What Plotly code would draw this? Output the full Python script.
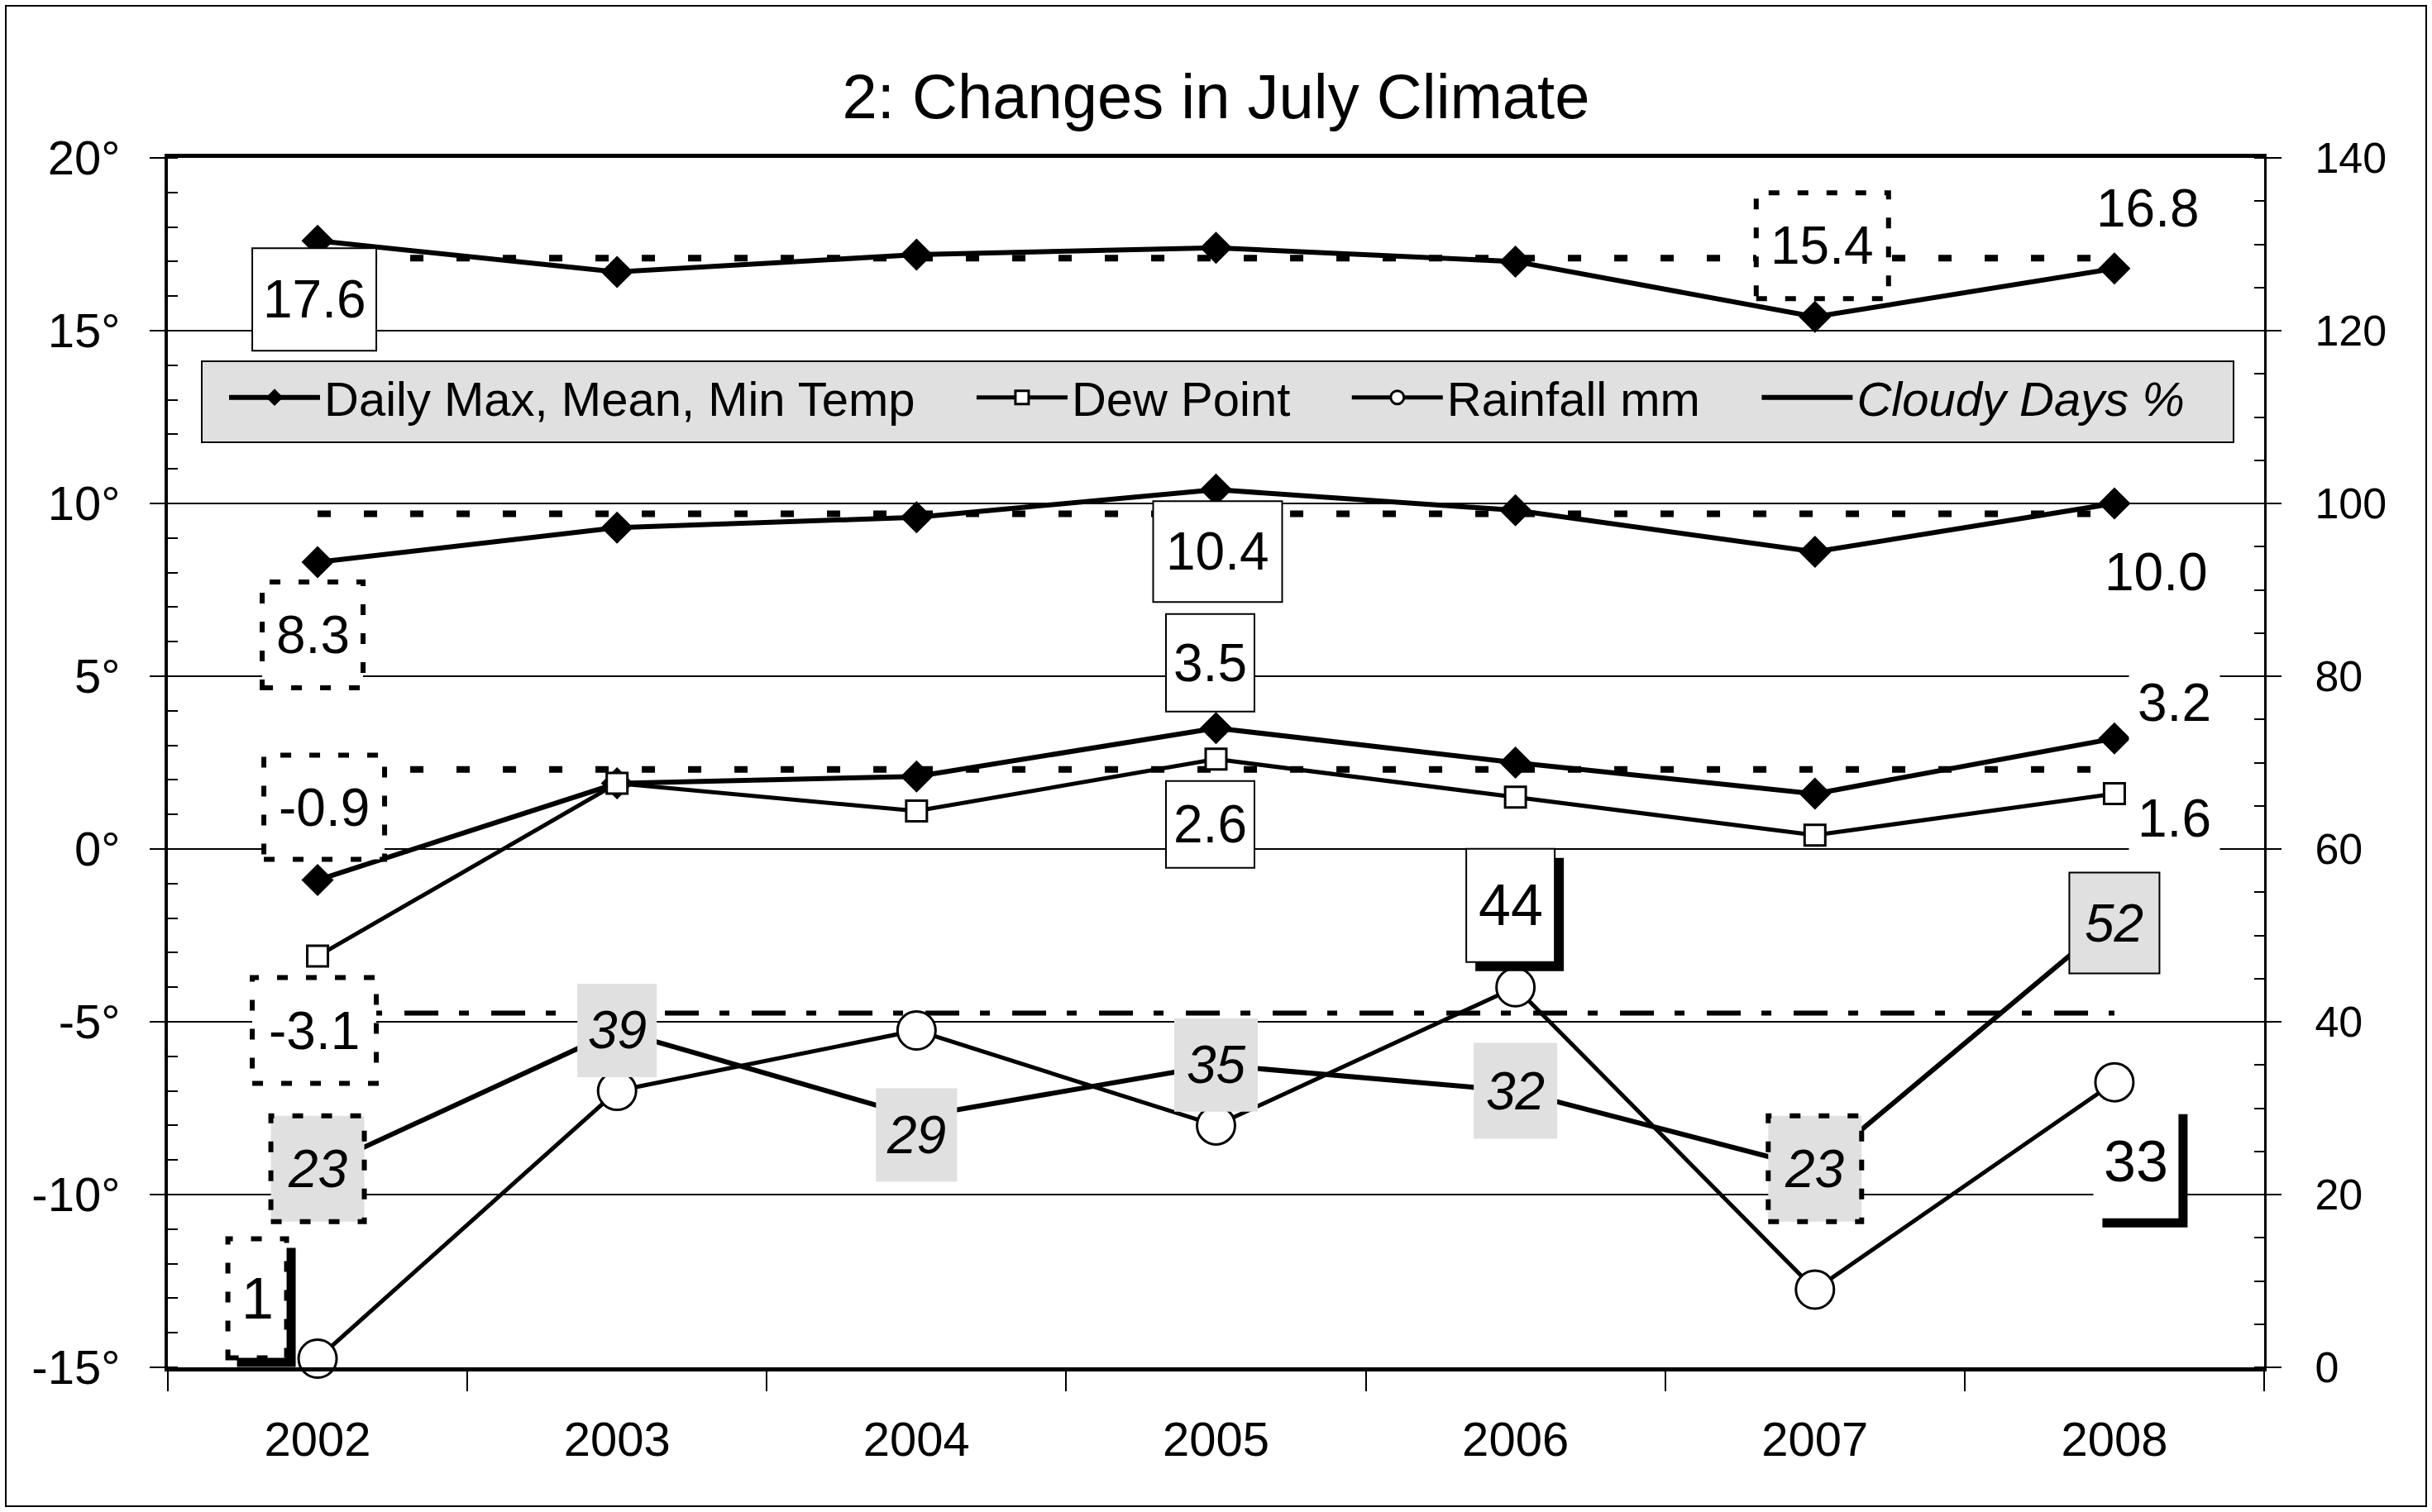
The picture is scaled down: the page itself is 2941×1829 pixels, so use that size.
import plotly.graph_objects as go

# ---------------- data ----------------
years = [2002, 2003, 2004, 2005, 2006, 2007, 2008]
year_labels = ["2002", "2003", "2004", "2005", "2006", "2007", "2008"]
temp_max = [17.6, 16.7, 17.2, 17.4, 17.0, 15.4, 16.8]
temp_mean = [8.3, 9.3, 9.6, 10.4, 9.8, 8.6, 10.0]
temp_min = [-0.9, 1.9, 2.1, 3.5, 2.5, 1.6, 3.2]
dew_point = [-3.1, 1.9, 1.1, 2.6, 1.5, 0.4, 1.6]
rainfall_mm = [1, 32, 39, 28, 44, 9, 33]
cloudy_pct = [23, 39, 29, 35, 32, 23, 52]
max_ref = 17.1
mean_ref = 9.7
min_ref = 2.3
rain_ref = 41
left_tickvals = [-15, -10, -5, 0, 5, 10, 15, 20]
left_ticktext = ["-15°", "-10°", "-5°", "0°", "5°", "10°", "15°", "20°"]
right_tickvals = [0, 20, 40, 60, 80, 100, 120, 140]
right_ticktext = ["0", "20", "40", "60", "80", "100", "120", "140"]
legend_names = ["Daily Max, Mean, Min Temp", "Dew Point", "Rainfall mm", "Cloudy Days %"]

FONT = "Liberation Sans, Arial, Helvetica, sans-serif"
W, H = 2941, 1829
ML, MR, MT, MB = 203, 203, 191, 175
GRAY = "#e0e0e0"
NB = "\u00a0"

fig = go.Figure()
span = [years[0], years[-1]]
refdash = "16px,40px"
for ref in (max_ref, mean_ref, min_ref):
    fig.add_trace(go.Scatter(x=span, y=[ref, ref], mode="lines",
                             line=dict(color="black", width=8, dash=refdash),
                             showlegend=False, hoverinfo="skip"))
fig.add_trace(go.Scatter(x=span, y=[rain_ref, rain_ref], yaxis="y2", mode="lines",
                         line=dict(color="black", width=6, dash="41px,25px,12px,27px"),
                         showlegend=False, hoverinfo="skip"))

temp_marker = dict(symbol="diamond", size=30, color="black")
fig.add_trace(go.Scatter(x=years, y=temp_max, mode="lines+markers",
                         name=legend_names[0] + NB * 4,
                         line=dict(color="black", width=6), marker=temp_marker, cliponaxis=False))
fig.add_trace(go.Scatter(x=years, y=temp_mean, mode="lines+markers", showlegend=False,
                         line=dict(color="black", width=6), marker=temp_marker, cliponaxis=False))
fig.add_trace(go.Scatter(x=years, y=temp_min, mode="lines+markers", showlegend=False,
                         line=dict(color="black", width=6), marker=temp_marker, cliponaxis=False))
fig.add_trace(go.Scatter(x=years, y=dew_point, mode="lines+markers",
                         name=legend_names[1] + NB * 4,
                         line=dict(color="black", width=5),
                         marker=dict(symbol="square", size=25, color="white",
                                     line=dict(color="black", width=3)), cliponaxis=False))
fig.add_trace(go.Scatter(x=years, y=rainfall_mm, yaxis="y2", mode="lines+markers",
                         name=legend_names[2] + NB * 4,
                         line=dict(color="black", width=5),
                         marker=dict(symbol="circle", size=46, color="white",
                                     line=dict(color="black", width=3)), cliponaxis=False))
fig.add_trace(go.Scatter(x=years, y=cloudy_pct, yaxis="y2", mode="lines",
                         name="<i>" + legend_names[3] + "</i>",
                         line=dict(color="black", width=6), cliponaxis=False))

shapes = []
annotations = []
pw, ph = W - ML - MR, H - MT - MB


def px_x(v):
    return (v - ML) / pw


def px_y(v):
    return (H - MB - v) / ph


# legend background box (drawn below the traces)
shapes.append(dict(type="rect", xref="paper", yref="paper", layer="below",
                   x0=px_x(244), x1=px_x(2701), y0=px_y(535), y1=px_y(437),
                   fillcolor=GRAY, line=dict(color="black", width=2)))


def add_label(text, xv, yv, yref, dx, dy, w, h, fill=None, border=None, shadow=False,
              size=64, italic=False, pad_bg=False):
    """dx, dy: centre offset in pixels (right / down) from the data point."""
    cx, cy = dx, -dy
    x0, x1 = cx - w / 2, cx + w / 2
    y0, y1 = cy - h / 2, cy + h / 2
    common = dict(type="rect", xref="x", yref=yref, xsizemode="pixel", ysizemode="pixel",
                  xanchor=xv, yanchor=yv, layer="above")
    if shadow:
        s = 11
        shapes.append(dict(common, x0=x0 + s, x1=x1 + s, y0=y0 - s, y1=y1 - s,
                           fillcolor="black", line=dict(width=0)))
    if fill is not None or border is not None:
        if border == "solid":
            line = dict(color="black", width=2)
        elif border == "dotted":
            line = dict(color="black", width=6, dash="13px,22px")
        else:
            line = dict(width=0)
        shapes.append(dict(common, x0=x0, x1=x1, y0=y0, y1=y1,
                           fillcolor=fill if fill else "rgba(0,0,0,0)", line=line))
    t = f"<i>{text}</i>" if italic else text
    ann = dict(x=xv, y=yv, xref="x", yref=yref, text=t, showarrow=False,
               xshift=dx, yshift=-dy, font=dict(family=FONT, size=size, color="black"))
    if pad_bg:
        ann.update(bgcolor="white", borderpad=10)
    annotations.append(ann)


def f1(v):
    return f"{v:.1f}"

# max temp labels
add_label(f1(temp_max[0]), years[0], temp_max[0], "y", -4, 71, 150, 124, "white", "solid")
add_label(f1(temp_max[5]), years[5], temp_max[5], "y", 9, -86, 160, 128, "white", "dotted")
add_label(f1(temp_max[6]), years[6], temp_max[6], "y", 41, -73, 0, 0, pad_bg=True)
# mean temp labels
add_label(f1(temp_mean[0]), years[0], temp_mean[0], "y", -6, 88, 122, 128, "white", "dotted")
add_label(f1(temp_mean[3]), years[3], temp_mean[3], "y", 2, 75, 156, 122, "white", "solid")
add_label(f1(temp_mean[6]), years[6], temp_mean[6], "y", 51, 83, 0, 0, pad_bg=True)
# min temp labels
add_label(f1(temp_min[0]), years[0], temp_min[0], "y", 8, -88, 146, 126, "white", "dotted")
add_label(f1(temp_min[3]), years[3], temp_min[3], "y", -7, -79, 107, 118, "white", "solid")
add_label(f1(temp_min[6]), years[6], temp_min[6], "y", 73, -43, 0, 0, pad_bg=True)
# dew point labels
add_label(f1(dew_point[0]), years[0], dew_point[0], "y", -4, 90, 150, 128, "white", "dotted")
add_label(f1(dew_point[3]), years[3], dew_point[3], "y", -7, 79, 107, 105, "white", "solid")
add_label(f1(dew_point[6]), years[6], dew_point[6], "y", 73, 30, 0, 0, pad_bg=True)
# rainfall labels
add_label(str(rainfall_mm[0]), years[0], rainfall_mm[0], "y2", -73, -73, 71, 144, "white", "dotted",
          shadow=True, size=70)
add_label(str(rainfall_mm[4]), years[4], rainfall_mm[4], "y2", -6, -99, 107, 137, "white", "solid",
          shadow=True, size=70)
add_label(str(rainfall_mm[6]), years[6], rainfall_mm[6], "y2", 26, 96, 103, 137, "white", None,
          shadow=True, size=70)
# cloudy labels (centred on points)
cloud_style = [
    (0, 0, 113, 128, "dotted"),
    (1, 0, 96, 113, None),
    (2, 22, 98, 113, None),
    (3, 0, 101, 113, None),
    (4, 0, 101, 116, None),
    (5, 0, 113, 128, "dotted"),
    (6, 6, 109, 122, "solid"),
]
for i, dy, w, h, b in cloud_style:
    add_label(str(cloudy_pct[i]), years[i], cloudy_pct[i], "y2", 0, dy, w, h, GRAY, b,
              size=64, italic=True)

# outer chart border (paper coordinates)
shapes.append(dict(type="rect", xref="paper", yref="paper", layer="above",
                   x0=px_x(7), x1=px_x(W - 7), y0=px_y(H - 7), y1=px_y(7),
                   line=dict(color="black", width=2), fillcolor="rgba(0,0,0,0)"))

boundaries = [y - 0.5 for y in years] + [years[-1] + 0.5]

fig.update_layout(
    width=W, height=H,
    margin=dict(l=ML, r=MR, t=MT, b=MB),
    paper_bgcolor="white", plot_bgcolor="white",
    font=dict(family=FONT, color="black", size=58),
    title=dict(text="2: Changes in July Climate", x=0.5, xanchor="center",
               y=1 - 116 / H, yanchor="middle", yref="container",
               font=dict(family=FONT, size=76, color="black")),
    showlegend=True,
    legend=dict(orientation="h", x=px_x(272), y=px_y(481),
                xanchor="left", yanchor="middle", bgcolor="rgba(0,0,0,0)",
                borderwidth=0, font=dict(family=FONT, size=58, color="black"),
                itemwidth=110, tracegroupgap=0),
    xaxis=dict(range=[years[0] - 0.5, years[-1] + 0.5], tickmode="array",
               tickvals=years, ticktext=year_labels, ticks="outside", ticklen=24,
               tickcolor="rgba(0,0,0,0)", ticklabelstandoff=8,
               minor=dict(tickmode="array", tickvals=boundaries, ticks="outside",
                          ticklen=24, tickwidth=2, tickcolor="black", showgrid=False),
               showline=True, linewidth=5, linecolor="black", mirror=True,
               showgrid=False, zeroline=False, tickfont=dict(size=58)),
    yaxis=dict(range=[-15, 20], tickmode="array", tickvals=left_tickvals,
               ticktext=left_ticktext, ticks="outside", ticklen=18, tickwidth=2,
               tickcolor="black", ticklabelstandoff=24,
               minor=dict(tickmode="linear", tick0=0, dtick=1, ticks="inside",
                          ticklen=12, tickwidth=2, tickcolor="black", showgrid=False),
               showgrid=True, gridcolor="black", gridwidth=2,
               showline=True, linewidth=4, linecolor="black", zeroline=False,
               tickfont=dict(size=58)),
    yaxis2=dict(overlaying="y", side="right", range=[0, 140], tickmode="array",
                tickvals=right_tickvals, ticktext=right_ticktext, ticks="outside",
                ticklen=18, tickwidth=2, tickcolor="black", ticklabelstandoff=30,
                minor=dict(tickmode="linear", tick0=0, dtick=5, ticks="inside",
                           ticklen=12, tickwidth=2, tickcolor="black", showgrid=False),
                showgrid=False, showline=True, linewidth=3, linecolor="black",
                zeroline=False, tickfont=dict(size=52)),
    shapes=shapes,
    annotations=annotations,
)

fig.write_html("out.html", config={"displayModeBar": False},
               post_script="document.body.style.margin='0px';document.body.style.overflow='hidden';")
